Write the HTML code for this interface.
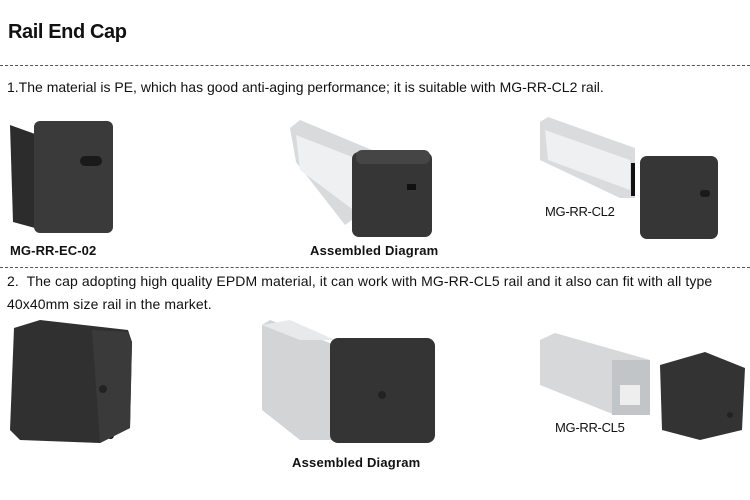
<!DOCTYPE html>
<html><head><meta charset="utf-8"><style>
body{margin:0;width:750px;height:500px;background:#fff;position:relative;overflow:hidden;font-family:"Liberation Sans",sans-serif;color:#111}
.t{position:absolute;white-space:nowrap}
.dash{position:absolute;left:0;width:750px;border-top:1px dashed #555}
svg{position:absolute;left:0;top:0}
</style></head><body>
<div class="t" style="left:8px;top:21px;font-size:20px;font-weight:bold;letter-spacing:-0.4px">Rail End Cap</div>
<div class="dash" style="top:65px"></div>
<div class="t" style="left:7px;top:79px;font-size:14px;letter-spacing:0px">1.The material is PE, which has good anti-aging performance; it is suitable with MG-RR-CL2 rail.</div>
<div class="t" style="left:10px;top:243px;font-size:13px;font-weight:bold;letter-spacing:0.1px">MG-RR-EC-02</div>
<div class="t" style="left:310px;top:243px;font-size:13px;font-weight:bold;letter-spacing:0.2px">Assembled Diagram</div>
<div class="t" style="left:545px;top:204px;font-size:13px;letter-spacing:-0.3px">MG-RR-CL2</div>
<div class="dash" style="top:267px"></div>
<div class="t" style="left:7px;top:273px;font-size:14px;letter-spacing:0.1px">2.&nbsp; The cap adopting high quality EPDM material, it can work with MG-RR-CL5 rail and it also can fit with all type</div>
<div class="t" style="left:7px;top:296px;font-size:14px;letter-spacing:0.1px">40x40mm size rail in the market.</div>
<div class="t" style="left:28px;top:427px;font-size:13px;font-weight:bold;letter-spacing:0.1px">MG-RR-EC-05</div>
<div class="t" style="left:292px;top:455px;font-size:13px;font-weight:bold;letter-spacing:0.2px">Assembled Diagram</div>
<div class="t" style="left:555px;top:420px;font-size:13px;letter-spacing:-0.3px">MG-RR-CL5</div>
<svg width="750" height="500">
<polygon points="10,125 35,134 35,228 13,222" fill="#2c2c2c"/>
<rect x="34" y="121" width="79" height="112" rx="6" fill="#3a3a3a"/>
<rect x="80" y="156" width="22" height="10" rx="5" fill="#1a1a1a"/>
<polygon points="290,128 300,120 372,150 372,205 345,225 296,162" fill="#d8dadc"/>
<polygon points="296,135 360,160 360,215 300,170" fill="#eef0f1"/>
<rect x="352" y="152" width="80" height="85" rx="7" fill="#363636"/>
<rect x="356" y="150" width="74" height="14" rx="6" fill="#454545"/>
<rect x="407" y="184" width="9" height="6" fill="#111"/>
<polygon points="540,122 548,117 635,148 635,198 620,198 540,160" fill="#d9dbdd"/>
<polygon points="545,130 630,160 630,190 548,160" fill="#eef0f1"/>
<rect x="631" y="163" width="4" height="33" fill="#111"/>
<rect x="640" y="156" width="78" height="83" rx="7" fill="#363636"/>
<rect x="700" y="190" width="10" height="7" rx="3" fill="#1a1a1a"/>
<polygon points="14,328 40,320 128,330 132,342 130,428 100,443 20,440 10,430" fill="#303030"/>
<polygon points="92,330 128,332 132,342 130,428 100,443" fill="#3a3a3a"/>
<circle cx="103" cy="389" r="4" fill="#222"/>
<polygon points="262,325 270,320 335,345 335,440 300,440 262,410" fill="#d2d4d6"/>
<polygon points="262,325 290,320 335,340 300,340" fill="#e8e9ea"/>
<rect x="330" y="338" width="105" height="105" rx="8" fill="#343434"/>
<circle cx="382" cy="395" r="4" fill="#222"/>
<polygon points="540,340 555,333 650,360 650,415 615,415 540,385" fill="#d6d8da"/>
<rect x="612" y="360" width="38" height="55" fill="#c2c5c7"/>
<rect x="620" y="385" width="20" height="20" fill="#eee"/>
<polygon points="660,365 705,352 745,368 742,430 700,440 662,430" fill="#333"/>
<circle cx="730" cy="415" r="3" fill="#222"/>
</svg>
</body></html>
